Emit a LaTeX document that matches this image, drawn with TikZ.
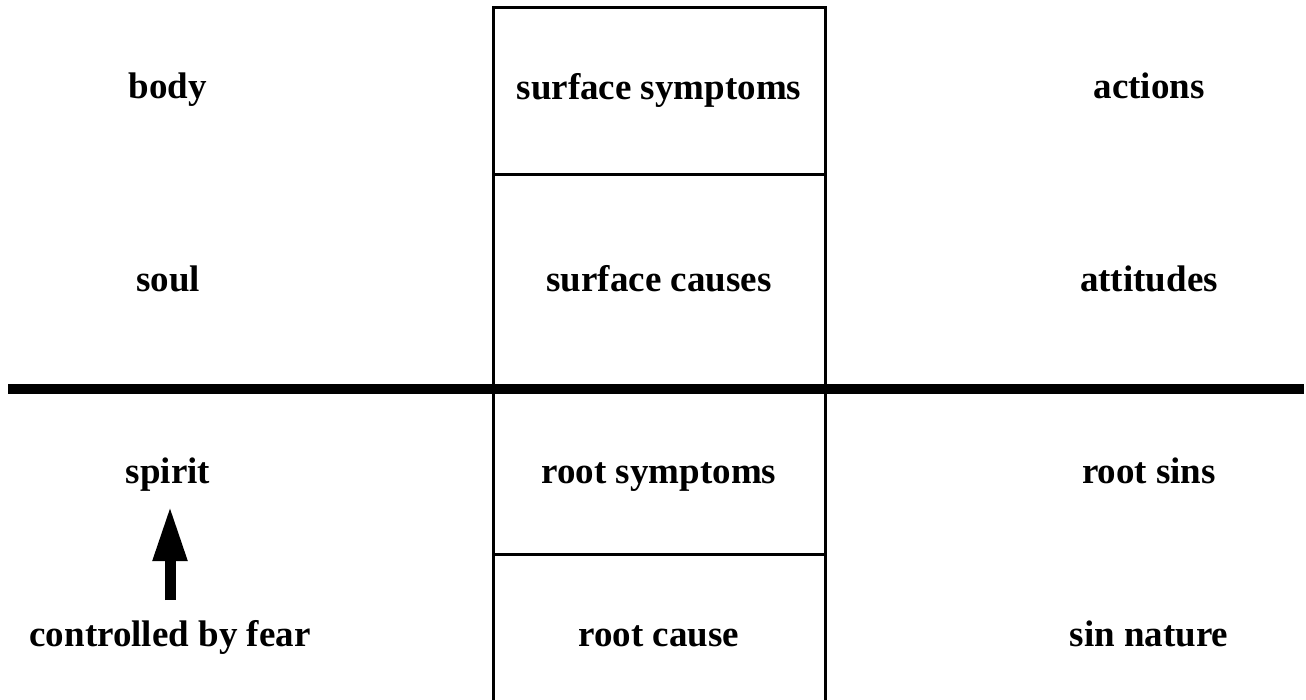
\documentclass[tikz,border=0pt]{standalone}
\usepackage{fontspec}
\setmainfont{Liberation Serif}
\usetikzlibrary{arrows.meta}
\begin{document}
\begin{tikzpicture}[x=1pt,y=-1pt,
  lbl/.style={anchor=base,inner sep=0pt,font=\fontsize{37}{44}\selectfont\bfseries},
  boxline/.style={line width=3pt},
  divider/.style={line width=10pt}]
\useasboundingbox (0,0) rectangle (1306,700);
% centre column
\draw[boxline] (493,720) -- (493,8) -- (825,8) -- (825,720);
\draw[boxline] (493,175) -- (825,175);
\draw[boxline] (493,554) -- (825,554);
% thick divider
\coordinate (dl) at (8,389);
\coordinate (dr) at (1304,389);
\draw[divider] (dl) -- (dr);
% labels
\node[lbl] (body) at (168,99) {body};
\node[lbl] (surfsym) at (659,100) {surface symptoms};
\node[lbl] (actions) at (1149,99) {actions};
\node[lbl] (soul) at (168,292) {soul};
\node[lbl] (surfcau) at (659,292) {surface causes};
\node[lbl] (attitudes) at (1149,292) {attitudes};
\node[lbl] (spirit) at (168,483) {spirit};
\node[lbl] (rootsym) at (659,483) {root symptoms};
\node[lbl] (rootsins) at (1149,483) {root sins};
\node[lbl] (fear) at (170,646) {controlled by fear};
\node[lbl] (rootcause) at (659,646) {root cause};
\node[lbl] (sinnature) at (1149,646) {sin nature};
% arrow
\coordinate (arrbot) at (170,600);
\coordinate (arrtop) at (170,506);
\draw[line width=11pt,-{Triangle[width=32pt,length=55pt]}] (arrbot) -- (arrtop);
\end{tikzpicture}
\end{document}
